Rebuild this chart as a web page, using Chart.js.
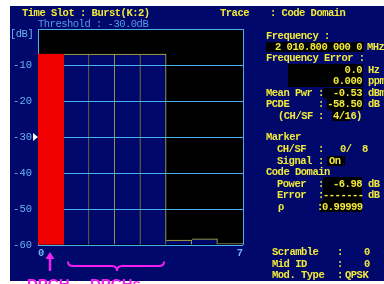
<!DOCTYPE html>
<html>
<head>
<meta charset="utf-8">
<script src="https://cdn.jsdelivr.net/npm/chart.js@4.4.0/dist/chart.umd.min.js"></script>
<style>
  html, body { margin: 0; padding: 0; background: #fff; }
  #wrap { position: relative; width: 384px; height: 284px; overflow: hidden; }
  #screen { position: absolute; left: 10px; top: 6px; width: 374px; height: 275px; background: #00086c; }
  #chart { position: absolute; left: 0; top: 0; }
  .t { position: absolute; font: bold 10.5px "Liberation Mono", monospace; letter-spacing: -0.5px;
       color: #f2ea3a; line-height: 12px; white-space: pre; }
  .b { color: #6ab4f0; font-weight: normal; }
  .th { color: #5a98ec; font-weight: normal; }
  .box { position: absolute; background: #000; }
  .mag { position: absolute; font: bold 15px "Liberation Sans", Arial, sans-serif; color: #f020f0;
         line-height: 15px; white-space: pre; }
  svg { position: absolute; left: 0; top: 0; }
</style>
</head>
<body>
<div id="wrap">
  <div id="screen"></div>
  <canvas id="chart" width="384" height="284"></canvas>

  <!-- header -->
  <div class="t" style="left:22px;top:7px">Time Slot : Burst(K:2)</div>
  <div class="t" style="left:220px;top:7px">Trace</div>
  <div class="t" style="left:270px;top:7px">: Code Domain</div>
  <div class="t th" style="left:38px;top:18px">Threshold : -30.0dB</div>
  <div class="t b" style="left:10px;top:28px">[dB]</div>

  <!-- black value boxes -->
  <div class="box" style="left:266px;top:42px;width:98px;height:10px"></div>
  <div class="box" style="left:288px;top:64px;width:75px;height:23px"></div>
  <div class="box" style="left:323px;top:88px;width:40px;height:10px"></div>
  <div class="box" style="left:327px;top:98px;width:36px;height:12px"></div>
  <div class="box" style="left:332px;top:110px;width:18px;height:11px"></div>
  <div class="box" style="left:327px;top:156px;width:18px;height:10px"></div>
  <div class="box" style="left:323px;top:177px;width:39px;height:13px"></div>
  <div class="box" style="left:323px;top:190px;width:39px;height:11px"></div>
  <div class="box" style="left:320px;top:201px;width:42px;height:11px"></div>

  <!-- right panel -->
  <div class="t" style="left:266px;top:30px">Frequency :</div>
  <div class="t" style="right:22px;top:41px">2 010.800 000 0</div>
  <div class="t" style="left:367px;top:41px">MHz</div>
  <div class="t" style="left:266px;top:52px">Frequency Error :</div>
  <div class="t" style="right:22px;top:64px">0.0</div>
  <div class="t" style="left:368px;top:64px">Hz</div>
  <div class="t" style="right:22px;top:75px">0.000</div>
  <div class="t" style="left:368px;top:75px">ppm</div>
  <div class="t" style="left:266px;top:87px">Mean Pwr</div>
  <div class="t" style="left:318px;top:87px">:</div>
  <div class="t" style="right:22px;top:87px">-0.53</div>
  <div class="t" style="left:368px;top:87px">dBm</div>
  <div class="t" style="left:266px;top:98px">PCDE</div>
  <div class="t" style="left:318px;top:98px">:</div>
  <div class="t" style="right:22px;top:98px">-58.50</div>
  <div class="t" style="left:368px;top:98px">dB</div>
  <div class="t" style="left:278px;top:110px">(CH/SF</div>
  <div class="t" style="left:318px;top:110px">:</div>
  <div class="t" style="left:333px;top:110px">4/16</div>
  <div class="t" style="left:356px;top:110px">)</div>

  <div class="t" style="left:266px;top:131px">Marker</div>
  <div class="t" style="left:277px;top:143px">CH/SF</div>
  <div class="t" style="left:318px;top:143px">:</div>
  <div class="t" style="left:340px;top:143px">0/</div>
  <div class="t" style="left:362px;top:143px">8</div>
  <div class="t" style="left:277px;top:155px">Signal</div>
  <div class="t" style="left:318px;top:155px">:</div>
  <div class="t" style="left:329px;top:155px">On</div>
  <div class="t" style="left:266px;top:166px">Code Domain</div>
  <div class="t" style="left:277px;top:178px">Power</div>
  <div class="t" style="left:318px;top:178px">:</div>
  <div class="t" style="right:22px;top:178px">-6.98</div>
  <div class="t" style="left:368px;top:178px">dB</div>
  <div class="t" style="left:277px;top:189px">Error</div>
  <div class="t" style="left:318px;top:189px">:</div>
  <div class="t" style="left:323px;top:189px">-------</div>
  <div class="t" style="left:368px;top:189px">dB</div>
  <div class="t" style="left:278px;top:201px">ρ</div>
  <div class="t" style="left:317px;top:201px">:</div>
  <div class="t" style="left:322px;top:201px">0.99999</div>

  <div class="t" style="left:272px;top:246px">Scramble</div>
  <div class="t" style="left:337px;top:246px">:</div>
  <div class="t" style="left:364px;top:246px">0</div>
  <div class="t" style="left:272px;top:258px">Mid ID</div>
  <div class="t" style="left:337px;top:258px">:</div>
  <div class="t" style="left:364px;top:258px">0</div>
  <div class="t" style="left:272px;top:269px">Mod. Type</div>
  <div class="t" style="left:337px;top:269px">:</div>
  <div class="t" style="left:345px;top:269px">QPSK</div>

  <!-- magenta notes -->
  <svg width="384" height="284">
    <line x1="50" y1="257" x2="50" y2="271" stroke="#f020f0" stroke-width="2.5"/>
    <polygon points="45.5,259 50,252 54.5,259" fill="#f020f0"/>
    <path d="M68,261.5 Q68,266 73,266 L112,266 Q117,266 117,271 Q117,266 122,266 L159,266 Q164,266 164,261.5"
          fill="none" stroke="#f020f0" stroke-width="2"/>
  </svg>
  <div class="mag" style="left:27px;top:276px">DPCH</div>
  <div class="mag" style="left:90px;top:276px">DPCHs</div>
</div>

<script>
// code domain power, SF = 8
const codes = ["0", "1", "2", "3", "4", "5", "6", "7"];
const codePower = [-6.98, -7.0, -7.0, -7.0, -7.0, -58.6, -58.3, -59.6];
const yTicks = [0, -10, -20, -30, -40, -50, -60];
const xTickLabels = ["0", "7"];
const threshold = -30.0;
const markerCode = 0;

const gridBlue = "#4cb0ec";
const barNavy = "#00086c";
const barYellow = "#c4c030";
const markerRed = "#f00000";

const screenPlugin = {
  id: "screen",
  beforeDraw: function(chart) {
    const a = chart.chartArea;
    const ctx = chart.ctx;
    ctx.save();
    ctx.fillStyle = "#000";
    ctx.fillRect(a.left, a.top, a.right - a.left, a.bottom - a.top);
    ctx.restore();
  },
  afterDraw: function(chart) {
    const ctx = chart.ctx;
    // marker bar sits above the grid
    const meta = chart.getDatasetMeta(0);
    meta.data[markerCode].draw(ctx);
    // threshold arrow on the left
    const y = chart.scales.y.getPixelForValue(threshold);
    const x = chart.chartArea.left;
    ctx.save();
    ctx.fillStyle = "#ffffff";
    ctx.beginPath();
    ctx.moveTo(x - 5, y - 4);
    ctx.lineTo(x, y);
    ctx.lineTo(x - 5, y + 4);
    ctx.closePath();
    ctx.fill();
    ctx.restore();
  }
};

new Chart(document.getElementById("chart"), {
  type: "bar",
  data: {
    labels: codes,
    datasets: [{
      data: codePower,
      base: -60,
      backgroundColor: ctx => ctx.dataIndex === markerCode ? markerRed : barNavy,
      borderColor: ctx => ctx.dataIndex === markerCode ? markerRed : barYellow,
      borderWidth: { top: 1, right: 1, bottom: 0, left: 0 },
      borderSkipped: false,
      categoryPercentage: 1,
      barPercentage: 1
    }]
  },
  options: {
    responsive: false,
    animation: false,
    layout: { padding: { left: 0, top: 29, right: 141, bottom: 23 } },
    plugins: { legend: { display: false }, tooltip: { enabled: false } },
    scales: {
      x: { type: "category", display: false },
      x2: {
        type: "linear",
        position: "bottom",
        min: 0,
        max: 7,
        offset: false,
        afterBuildTicks: s => { s.ticks = xTickLabels.map(v => ({ value: Number(v) })); },
        afterFit: s => { s.height = 16; },
        grid: { color: gridBlue, drawTicks: false, offset: false, z: 1 },
        border: { display: false },
        ticks: {
          align: "inner",
          padding: 2,
          color: "#6ab4f0",
          font: { family: "Liberation Mono", size: 10.5, weight: "bold" }
        }
      },
      y: {
        min: -60,
        max: 0,
        afterBuildTicks: s => { s.ticks = yTicks.map(v => ({ value: v })); },
        afterFit: s => { s.width = 38; },
        grid: { color: gridBlue, drawTicks: false, z: 1 },
        border: { display: false },
        ticks: {
          padding: 6,
          color: "#6ab4f0",
          font: { family: "Liberation Mono", size: 10.5 },
          callback: v => v === 0 ? "" : String(v)
        }
      }
    }
  },
  plugins: [screenPlugin]
});
</script>
</body>
</html>
